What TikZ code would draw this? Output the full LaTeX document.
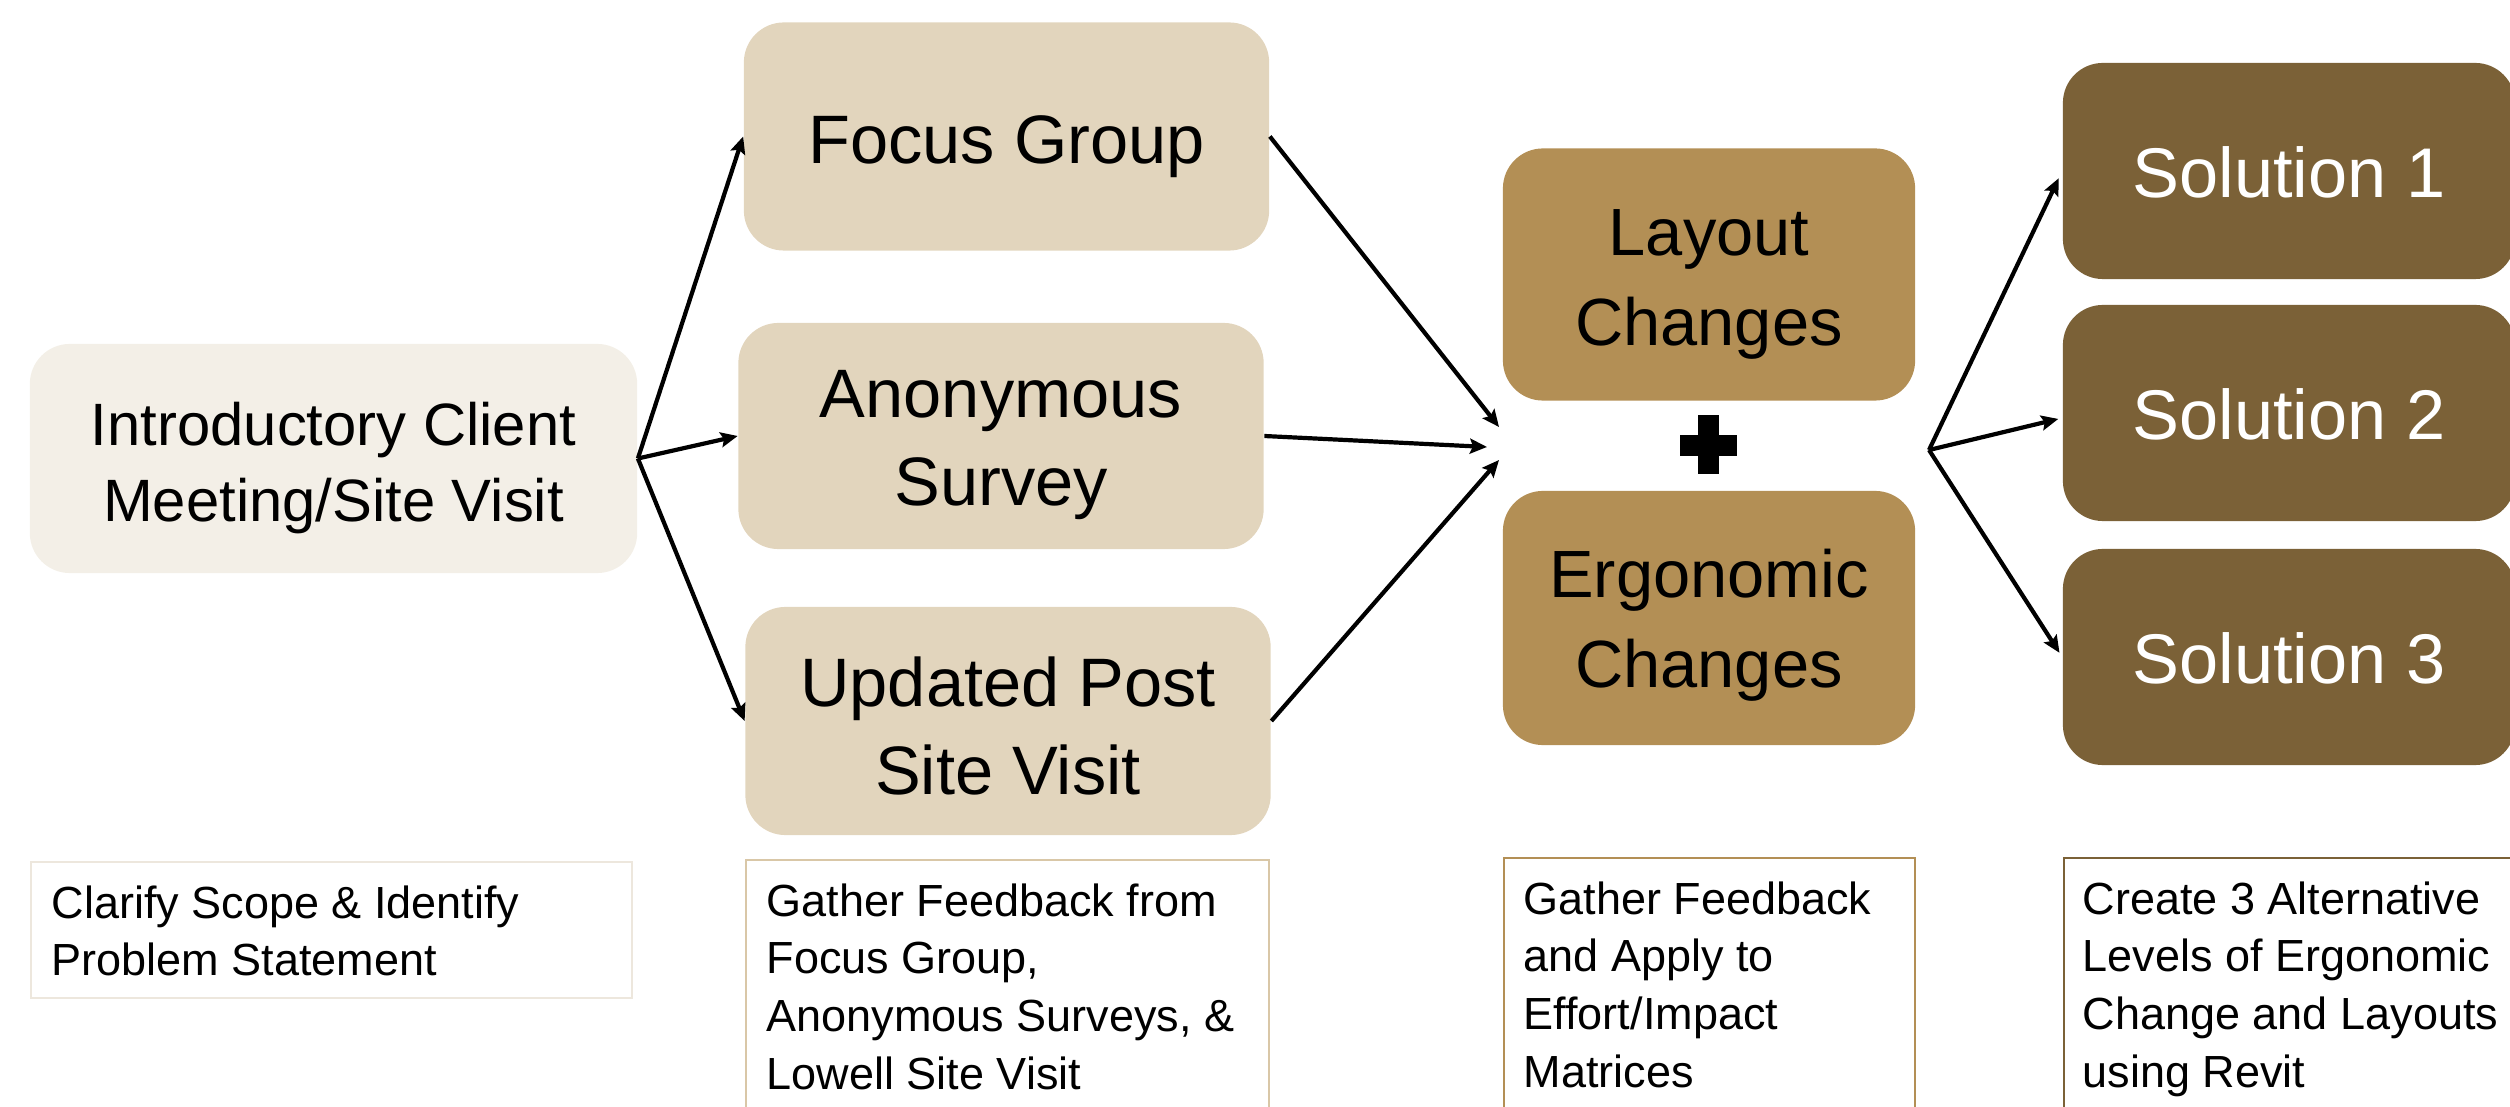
\documentclass[tikz,border=0pt]{standalone}
\usepackage{fontspec}
\setmainfont{Liberation Sans}
\usetikzlibrary{arrows.meta}
\definecolor{introc}{HTML}{F3EFE7}
\definecolor{beigec}{HTML}{E2D5BD}
\definecolor{tanc}{HTML}{B38F55}
\definecolor{darkc}{HTML}{7B6137}
\definecolor{tbA}{HTML}{EDE7DD}
\definecolor{tbB}{HTML}{D9C7A7}
\begin{document}
\begin{tikzpicture}[x=0.01cm,y=-0.01cm,
  box/.style={rounded corners=0.4cm, inner sep=0pt},
  introbox/.style={box, fill=introc, minimum width=6.07cm, minimum height=2.29cm},
  beigebox/.style={box, fill=beigec, minimum width=5.25cm, minimum height=2.28cm},
  tanbox/.style={box, fill=tanc, minimum width=4.12cm, minimum height=2.52cm},
  solbox/.style={box, fill=darkc, minimum width=4.52cm, minimum height=2.16cm},
  introtext/.style={align=center, inner sep=0pt, font=\fontsize{17}{21.6}\selectfont},
  beigetext/.style={align=center, inner sep=0pt, font=\fontsize{19.5}{25}\selectfont},
  tantext/.style={align=center, inner sep=0pt, font=\fontsize{19}{25.6}\selectfont},
  soltext/.style={align=center, inner sep=0pt, text=white, font=\fontsize{20}{25}\selectfont},
  notebox/.style={draw, line width=0.02cm, fill=white, inner sep=0pt},
  notetext/.style={anchor=north west, align=left, inner sep=0pt, font=\fontsize{12.8}{16.4}\selectfont},
  arr/.style={line width=0.042cm, -{Stealth[length=0.17cm,width=0.15cm,inset=0.03cm]}}]
\useasboundingbox (0,0) rectangle (2510,1107);
\clip (0,0) rectangle (2510,1107);

% main boxes
\node[introbox] (intro) at (333.5,458.5) {};
\node[beigebox] (focus) at (1006.5,136.5) {};
\node[beigebox, minimum height=2.26cm] (anon) at (1001,436) {};
\node[beigebox] (upd) at (1008,721) {};
\node[tanbox] (layout) at (1709,274.5) {};
\node[tanbox, minimum height=2.54cm] (ergo) at (1709,618) {};
\node[solbox] (sol1) at (2289,171) {};
\node[solbox] (sol2) at (2289,413) {};
\node[solbox] (sol3) at (2289,657) {};

% box texts
\node[introtext] (intro-t) at ([yshift=-0.1cm]intro.center) {Introductory Client\\Meeting/Site Visit};
\node[beigetext] (focus-t) at ([yshift=-0.1cm]focus.center) {Focus Group};
\node[beigetext] (anon-t) at ([yshift=-0.09cm]anon.center) {Anonymous\\Survey};
\node[beigetext] (upd-t) at ([yshift=-0.05cm]upd.center) {Updated Post\\Site Visit};
\node[tantext] (layout-t) at ([yshift=-0.1cm]layout.center) {Layout\\Changes};
\node[tantext] (ergo-t) at ([yshift=-0.07cm]ergo.center) {Ergonomic\\Changes};
\node[soltext] (sol1-t) at ([yshift=-0.01cm]sol1.center) {Solution 1};
\node[soltext] (sol2-t) at ([yshift=-0.01cm]sol2.center) {Solution 2};
\node[soltext] (sol3-t) at ([yshift=-0.01cm]sol3.center) {Solution 3};

% plus sign
\fill (1698,415) rectangle (1719,474);
\fill (1680,435) rectangle (1737,456);

% note boxes
\node[notebox, draw=tbA, minimum width=6.01cm, minimum height=1.36cm] (n1) at (331.5,930) {};
\node[notebox, draw=tbB, minimum width=5.23cm, minimum height=2.6cm] (n2) at (1007.5,990) {};
\node[notebox, draw=tanc, minimum width=4.11cm, minimum height=2.62cm] (n3) at (1709.5,989) {};
\node[notebox, draw=darkc, minimum width=4.66cm, minimum height=2.62cm] (n4) at (2297,989) {};
\node[notetext] (t1) at (51,885) {Clarify Scope \& Identify\\Problem Statement};
\node[notetext] (t2) at (766,883) {Gather Feedback from\\Focus Group,\\Anonymous Surveys, \&\\Lowell Site Visit};
\node[notetext] (t3) at (1523,881) {Gather Feedback\\and Apply to\\Effort/Impact\\Matrices};
\node[notetext] (t4) at (2082,881) {Create 3 Alternative\\Levels of Ergonomic\\Change and Layouts\\using Revit};

% connectors
\coordinate (m1) at (1499,427);
\coordinate (m2) at (1487,447);
\coordinate (m3) at (1499,460);
\coordinate (hub) at (1929,450);
\draw[arr] (intro.east) -- (focus.west);
\draw[arr] (intro.east) -- (anon.west);
\draw[arr] (intro.east) -- (upd.west);
\draw[arr] (focus.east) -- (m1);
\draw[arr] (anon.east) -- (m2);
\draw[arr] (upd.east) -- (m3);
\draw[arr, shorten >=0.08cm] (hub) -- (sol1.west);
\draw[arr, shorten >=0.04cm] (hub) -- ([yshift=-0.05cm]sol2.west);
\draw[arr, shorten >=0.05cm] (hub) -- (sol3.west);
\end{tikzpicture}
\end{document}
